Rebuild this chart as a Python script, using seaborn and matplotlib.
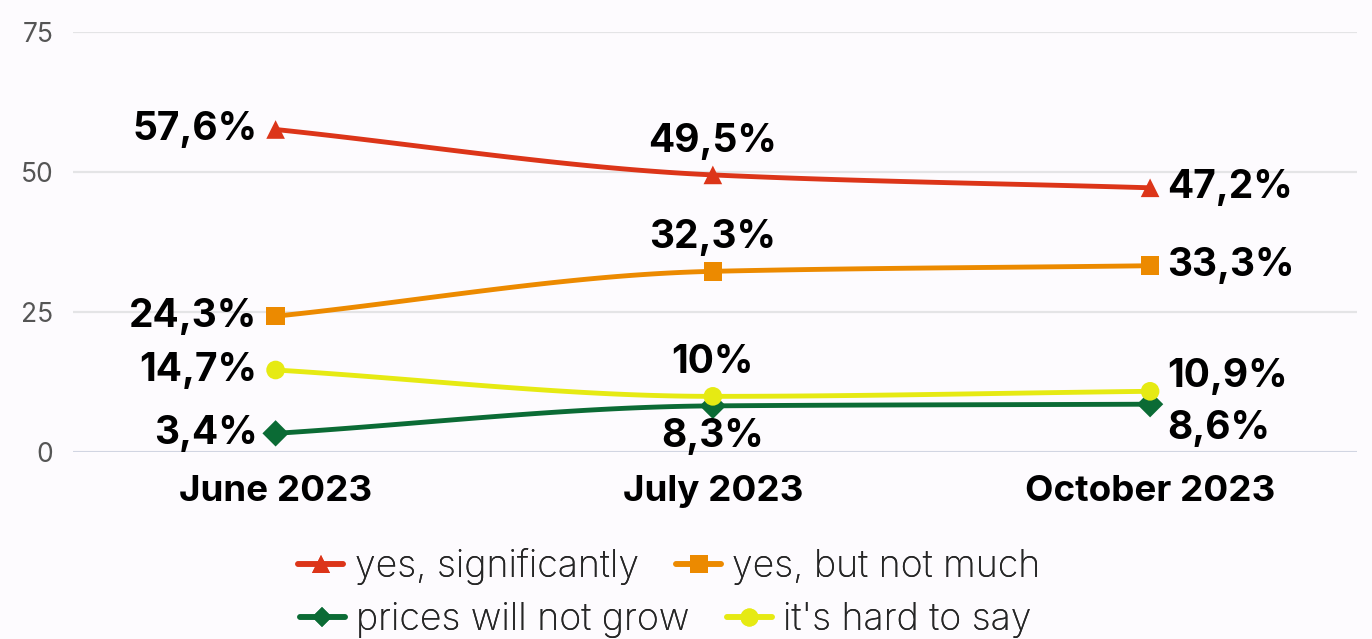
import numpy as np
import pandas as pd
import matplotlib
matplotlib.use("Agg")
import matplotlib.pyplot as plt
from matplotlib.lines import Line2D
import seaborn as sns

periods = ["June 2023", "July 2023", "October 2023"]
series_names = ["yes, significantly", "yes, but not much", "prices will not grow", "it's hard to say"]
yes_significantly = [57.6, 49.5, 47.2]
yes_not_much = [24.3, 32.3, 33.3]
not_grow = [3.4, 8.3, 8.6]
hard_to_say = [14.7, 10.0, 10.9]
value_labels = {
    "yes, significantly": ["57,6%", "49,5%", "47,2%"],
    "yes, but not much": ["24,3%", "32,3%", "33,3%"],
    "prices will not grow": ["3,4%", "8,3%", "8,6%"],
    "it's hard to say": ["14,7%", "10%", "10,9%"],
}
y_ticks = [0, 25, 50, 75]

colors = {
    "yes, significantly": "#dc3519",
    "yes, but not much": "#ec8a00",
    "prices will not grow": "#0b6b35",
    "it's hard to say": "#e6ea13",
}
markers = {
    "yes, significantly": "^",
    "yes, but not much": "s",
    "prices will not grow": "D",
    "it's hard to say": "o",
}

df = pd.DataFrame({
    "period": periods * 4,
    "x": list(range(3)) * 4,
    "series": sum([[s] * 3 for s in series_names], []),
    "value": yes_significantly + yes_not_much + not_grow + hard_to_say,
})


def monotone_curve(x, y, n=60):
    # monotone cubic hermite, just for drawing the smooth line
    x = np.asarray(x, float)
    y = np.asarray(y, float)
    d = np.diff(y) / np.diff(x)
    m = np.zeros_like(y)
    m[0], m[-1] = d[0], d[-1]
    for i in range(1, len(y) - 1):
        if d[i - 1] * d[i] <= 0:
            m[i] = 0
        else:
            m[i] = 2 / (1 / d[i - 1] + 1 / d[i])
    xs, ys = [], []
    for i in range(len(x) - 1):
        h = x[i + 1] - x[i]
        t = np.linspace(0, 1, n)
        h00 = 2 * t**3 - 3 * t**2 + 1
        h10 = t**3 - 2 * t**2 + t
        h01 = -2 * t**3 + 3 * t**2
        h11 = t**3 - t**2
        xs.append(x[i] + t * h)
        ys.append(h00 * y[i] + h10 * h * m[i] + h01 * y[i + 1] + h11 * h * m[i + 1])
    return np.concatenate(xs), np.concatenate(ys)


sns.set_theme(style="white")
plt.rcParams["font.family"] = ["Inter", "DejaVu Sans"]
bg = "#fdfbfe"

fig = plt.figure(figsize=(13.72, 6.39), dpi=100, facecolor=bg)
ax = fig.add_axes([0.053, 0.292, 0.936, 0.658])
ax.set_facecolor(bg)

for s in series_names:
    sub = df[df["series"] == s]
    cx, cy = monotone_curve(sub["x"], sub["value"])
    ax.plot(cx, cy, color=colors[s], lw=3.5, zorder=3, solid_capstyle="round")

sns.scatterplot(data=df, x="x", y="value", hue="series", style="series",
                palette=colors, markers=markers, s=180, linewidth=0,
                legend=False, ax=ax, zorder=4)

for s in series_names:
    vals = df[df["series"] == s]["value"].tolist()
    for i, v in enumerate(vals):
        lab = value_labels[s][i]
        kw = dict(fontsize=28, fontweight="bold", color="black", zorder=5,
                  textcoords="offset points")
        if i == 0:
            ax.annotate(lab, (i, v), xytext=(-13, 0), ha="right", va="center", **kw)
        elif i == 1:
            if s == "prices will not grow":
                ax.annotate(lab, (i, v), xytext=(0, -9), ha="center", va="top", **kw)
            else:
                ax.annotate(lab, (i, v), xytext=(0, 11), ha="center", va="bottom", **kw)
        else:
            if s == "prices will not grow":
                ax.annotate(lab, (i, v), xytext=(12, -4), ha="left", va="top", **kw)
            elif s == "it's hard to say":
                ax.annotate(lab, (i, v), xytext=(12, 11), ha="left", va="center", **kw)
            else:
                ax.annotate(lab, (i, v), xytext=(12, 0), ha="left", va="center", **kw)

ax.set_xlim(-0.464, 2.473)
ax.set_ylim(0, 75)
ax.set_yticks(y_ticks)
ax.set_yticklabels([str(t) for t in y_ticks], fontsize=19, color="#555555")
ax.set_xticks(range(3))
ax.set_xticklabels(periods, fontsize=26.5, fontweight="bold", color="black")
ax.tick_params(axis="x", length=0, pad=16)
ax.tick_params(axis="y", length=0, pad=14)
ax.grid(axis="y", color="#e4e4e6", lw=1.6)
ax.axhline(0, color="#cfd4e2", lw=2, zorder=2)
for sp in ax.spines.values():
    sp.set_visible(False)
ax.set_xlabel("")
ax.set_ylabel("")


def legend_handle(s):
    return Line2D([0], [0], color=colors[s], lw=4, marker=markers[s],
                  markersize=13 if markers[s] != "D" else 10, markeredgewidth=0)


# two legend rows, each centred on its own like the original
legend_rows = [
    (["yes, significantly", "yes, but not much"], 0.488, 0.114),
    (["prices will not grow", "it's hard to say"], 0.485, 0.029),
]
for names, cx, cy in legend_rows:
    leg = fig.legend([legend_handle(s) for s in names], names, loc="center",
                     bbox_to_anchor=(cx, cy), ncol=2, frameon=False,
                     handlelength=1.2, handletextpad=0.3, columnspacing=1.0,
                     borderpad=0, prop={"size": 27, "weight": "light"})
    fig.add_artist(leg)

fig.savefig("out.png", dpi=100, facecolor=bg)
